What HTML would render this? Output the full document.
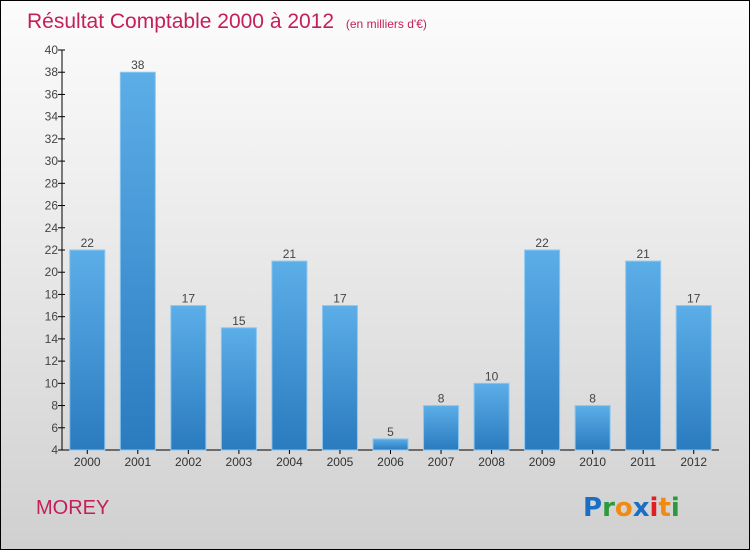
<!DOCTYPE html>
<html><head><meta charset="utf-8"><style>
body{margin:0}
#c{position:relative;width:748px;height:548px;border:1px solid #000;background:linear-gradient(#fcfcfc,#f0f0f0 30%,#d0d0d0);font-family:"Liberation Sans",sans-serif;overflow:hidden}
</style></head><body>
<div id="c">
<svg width="748" height="548" style="position:absolute;left:0;top:0" id="svg">
<defs><linearGradient id="bg" x1="0" y1="0" x2="0" y2="1"><stop offset="0" stop-color="#5caee8"/><stop offset="1" stop-color="#2a7bbf"/></linearGradient></defs>
<text x="26" y="27" font-size="21" fill="#c41f5a">Résultat Comptable 2000 à 2012 <tspan font-size="12" dx="6">(en milliers d'€)</tspan></text>
<text x="35" y="513" font-size="20" fill="#c41f5a">MOREY</text>
<g font-size="26" font-weight="bold" font-family="'DejaVu Sans',sans-serif">
<text x="582" y="515"><tspan fill="#1a6fc4">P</tspan><tspan fill="#2a9a3a">r</tspan><tspan fill="#f08a10">o</tspan><tspan fill="#1a6fc4">x</tspan><tspan fill="#e02020">i</tspan><tspan fill="#f08a10">t</tspan><tspan fill="#2a9a3a">i</tspan></text>
</g>
</svg>
</div>
<script>
const years=["2000","2001","2002","2003","2004","2005","2006","2007","2008","2009","2010","2011","2012"];
const values=[22,38,17,15,21,17,5,8,10,22,8,21,17];
const yTicks=[4,6,8,10,12,14,16,18,20,22,24,26,28,30,32,34,36,38,40];
const svg=document.getElementById('svg');
const NS='http://www.w3.org/2000/svg';
const x0=61,x1=718,yMin=4,yMax=40,yTop=49,yBot=449;
const step=(x1-x0)/years.length;
function y(v){return yBot-(v-yMin)/(yMax-yMin)*(yBot-yTop);}
function xc(i){return x0+step*(i+0.5);}
function mk(tag,attrs){const e=document.createElementNS(NS,tag);for(const k in attrs)e.setAttribute(k,attrs[k]);svg.appendChild(e);return e;}
const ax=mk('line',{x1:x0,y1:yTop,x2:x0,y2:yBot,stroke:'#000'});


const bx=mk('line',{x1:x0,y1:yBot,x2:x1,y2:yBot,stroke:'#000'});


yTicks.forEach(t=>{
 const l=mk('line',{x1:x0-4,y1:y(t),x2:x0+3,y2:y(t),stroke:'#000'});
 
 
 const tx=mk('text',{x:x0-4,y:y(t)+4,'font-size':12,fill:'#444','text-anchor':'end'});
 tx.textContent=t;
 
 
});
years.forEach((yr,i)=>{
 const c=xc(i),w=35,v=values[i];
 const r=mk('rect',{x:c-w/2,y:y(v),width:w,height:yBot-y(v),fill:'url(#bg)',stroke:'#8cc6f0','stroke-width':1});
 
 
 const tk=mk('line',{x1:c,y1:yBot,x2:c,y2:yBot+4,stroke:'#000'});
 
 
 const lb=mk('text',{x:c,y:yBot+16,'font-size':12,fill:'#333','text-anchor':'middle'});
 lb.textContent=yr;
 
 
 const vl=mk('text',{x:c,y:y(v)-3,'font-size':12,fill:'#444','text-anchor':'middle'});
 vl.textContent=v;
 
 
});
</script>
</body></html>
